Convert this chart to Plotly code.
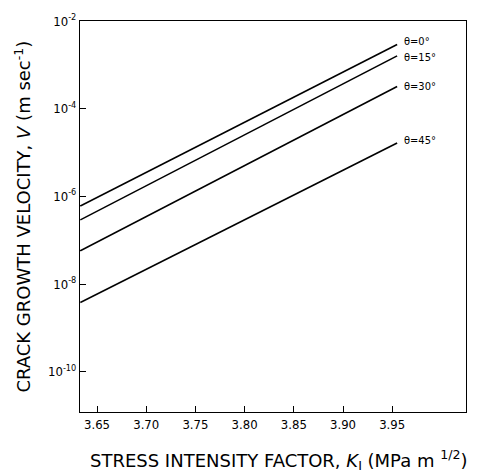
import math
import plotly.graph_objects as go

# Crack growth velocity vs stress intensity factor for four crack angles
k_values = [3.633, 3.955]
angle_labels = ["θ=0°", "θ=15°", "θ=30°", "θ=45°"]
velocity_0 = [6.0e-7, 2.9e-3]
velocity_15 = [2.9e-7, 1.6e-3]
velocity_30 = [5.7e-8, 3.2e-4]
velocity_45 = [3.8e-9, 1.65e-5]
series = [velocity_0, velocity_15, velocity_30, velocity_45]

x_ticks = [3.65, 3.70, 3.75, 3.80, 3.85, 3.90, 3.95]
x_tick_text = ["3.65", "3.70", "3.75", "3.80", "3.85", "3.90", "3.95"]
y_ticks = [1e-10, 1e-8, 1e-6, 1e-4, 1e-2]
y_tick_text = ["10<sup>-10</sup>", "10<sup>-8</sup>", "10<sup>-6</sup>",
               "10<sup>-4</sup>", "10<sup>-2</sup>"]

FONT = "DejaVu Sans Condensed, DejaVu Sans, sans-serif"
TITLE_FONT = "DejaVu Sans, sans-serif"

# small vertical nudges (px) so the two top labels don't collide
label_nudge = [3, -2, 0, 2]

fig = go.Figure()
for label, v, dy in zip(angle_labels, series, label_nudge):
    fig.add_trace(go.Scatter(
        x=k_values, y=v, mode="lines",
        line=dict(color="black", width=1.6),
        showlegend=False, hoverinfo="skip",
    ))
    # annotation positions on a log axis are given in log10 units
    fig.add_annotation(
        x=k_values[-1], y=math.log10(v[-1]), yref="y", xref="x",
        text=label, showarrow=False, xanchor="left", yanchor="middle",
        xshift=5, yshift=dy,
        font=dict(family=FONT, size=11, color="black"),
    )

axis_common = dict(
    showline=True, linecolor="black", linewidth=1.2, mirror=True,
    ticks="inside", ticklen=6, tickcolor="black", tickwidth=1,
    showgrid=False, zeroline=False,
    tickfont=dict(family=FONT, size=13, color="black"),
)

fig.update_xaxes(
    range=[3.6327, 4.025], tickvals=x_ticks, ticktext=x_tick_text,
    **axis_common,
)
fig.update_yaxes(
    type="log", range=[-10.92, -2.0], tickvals=y_ticks, ticktext=y_tick_text,
    **axis_common,
)

fig.add_annotation(
    x=-0.15, y=0.50, xref="paper", yref="paper",
    text="CRACK GROWTH VELOCITY, <i>V</i> (m sec<sup>-1</sup>)",
    textangle=-90, showarrow=False, xanchor="center", yanchor="middle",
    font=dict(family=TITLE_FONT, size=18, color="black"),
)
fig.add_annotation(
    x=0.515, y=-0.123, xref="paper", yref="paper",
    text="STRESS INTENSITY FACTOR, <i>K</i><sub>I</sub> (MPa m <sup>1/2</sup>)",
    showarrow=False, xanchor="center", yanchor="middle",
    font=dict(family=TITLE_FONT, size=18, color="black"),
)

fig.update_layout(
    width=477, height=476,
    margin=dict(l=80, r=11, t=21, b=64),
    paper_bgcolor="white", plot_bgcolor="white",
)

fig.write_html("out.html")
